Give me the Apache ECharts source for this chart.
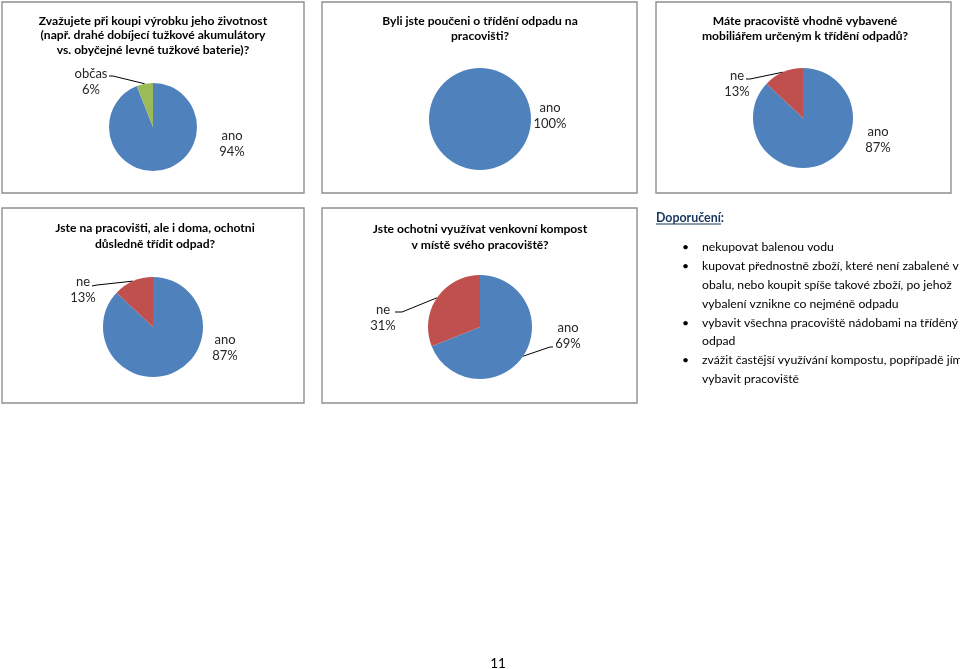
<!DOCTYPE html>
<html>
<head>
<meta charset="utf-8">
<script src="https://cdn.jsdelivr.net/npm/echarts@6/dist/echarts.min.js"></script>
<style>
html,body{margin:0;padding:0;background:#fff;}
#c{width:960px;height:669px;}
</style>
</head>
<body>
<div id="c"></div>
<script>
// ---- data ----
const chartTitles = [
  'Zvažujete při koupi výrobku jeho životnost\n(např. drahé dobíjecí tužkové akumulátory\nvs. obyčejné levné tužkové baterie)?',
  'Byli jste poučeni o třídění odpadu na\npracovišti?',
  'Máte pracoviště vhodně vybavené\nmobiliářem určeným k třídění odpadů?',
  'Jste na pracovišti, ale i doma, ochotni\ndůsledně třídit odpad?',
  'Jste ochotni využívat venkovní kompost\nv místě svého pracoviště?'
];
const pie1Names = ['ano', 'občas'];
const pie1Values = [94, 6];
const pie2Names = ['ano'];
const pie2Values = [100];
const pie3Names = ['ano', 'ne'];
const pie3Values = [87, 13];
const pie4Names = ['ano', 'ne'];
const pie4Values = [87, 13];
const pie5Names = ['ano', 'ne'];
const pie5Values = [69, 31];

const recTitle = 'Doporučení:';
const recLines = [
  'nekupovat balenou vodu',
  'kupovat přednostně zboží, které není zabalené v',
  'obalu, nebo koupit spíše takové zboží, po jehož',
  'vybalení vznikne co nejméně odpadu',
  'vybavit všechna pracoviště nádobami na tříděný',
  'odpad',
  'zvážit častější využívání kompostu, popřípadě jím',
  'vybavit pracoviště'
];
const recBullets = [true, true, false, false, true, false, true, false];
const pageNumber = '11';

// ---- styles / layout ----
const FONT = 'Lato';
const sliceColors = { 'ano': '#4F81BD', 'ne': '#C0504D', 'občas': '#9BBB59' };
const boxes = [
  [2, 2, 302, 191], [322, 2, 315, 191], [656, 2, 295, 191],
  [2, 208, 302, 195], [322, 208, 315, 195]
];
const pieLayout = [
  { center: [153, 127], r: 44, titleX: 153, titleY: 13.5, lh: 14.5 },
  { center: [480, 119], r: 51, titleX: 480, titleY: 13.5, lh: 15 },
  { center: [803, 118], r: 50, titleX: 805, titleY: 13.5, lh: 15 },
  { center: [153, 327], r: 50, titleX: 155, titleY: 220, lh: 16 },
  { center: [480, 327], r: 52, titleX: 480, titleY: 221, lh: 16 }
];
// label centre offsets from pie centre, per slice
const labelOffsets = [
  [[79, 17], [-62, -45]],
  [[70, -3]],
  [[75, 22], [-66, -34]],
  [[72, 21], [-70, -37]],
  [[88, 9], [-97, -9]]
];
// leader lines: [start offset, knee offset] or null
const leaderLines = [
  [null, [[-44, -51], [-40, -51]]],
  [null],
  [null, [[-57, -39], [-53, -39]]],
  [null, [[-61, -41], [-56, -42]]],
  [[[73, 20], [70, 20]], [[-85, -15], [-78, -15]]]
];

const pieData = [
  [pie1Names, pie1Values], [pie2Names, pie2Values], [pie3Names, pie3Values],
  [pie4Names, pie4Values], [pie5Names, pie5Values]
];

function edgePoint(values, i, cx, cy, r) {
  const total = values.reduce((a, b) => a + b, 0);
  let before = 0;
  for (let k = 0; k < i; k++) before += values[k];
  const midFrac = (before + values[i] / 2) / total;
  const ang = (90 - 360 * midFrac) * Math.PI / 180;
  return [cx + r * Math.cos(ang), cy - r * Math.sin(ang)];
}

const series = pieData.map(([names, values], si) => {
  const L = pieLayout[si];
  const [cx, cy] = L.center;
  return {
    type: 'pie',
    center: L.center,
    radius: L.r,
    startAngle: 90,
    clockwise: true,
    avoidLabelOverlap: false,
    silent: true,
    animation: false,
    percentPrecision: 0,
    itemStyle: { borderWidth: 0 },
    data: names.map((n, i) => ({
      name: n,
      value: values[i],
      itemStyle: { color: sliceColors[n] },
      labelLine: { show: !!leaderLines[si][i] }
    })),
    label: {
      show: true,
      position: 'outside',
      formatter: '{b}\n{d}%',
      fontFamily: FONT,
      fontSize: 13,
      lineHeight: 16,
      color: '#262626',
      align: 'center'
    },
    labelLine: {
      show: true,
      lineStyle: { color: '#000', width: 1 },
      length: 10, length2: 10
    },
    labelLayout: function (p) {
      const i = p.dataIndex;
      const off = labelOffsets[si][i];
      const res = {
        x: cx + off[0], y: cy + off[1],
        align: 'center', verticalAlign: 'middle',
        hideOverlap: false, moveOverlap: null
      };
      const ll = leaderLines[si][i];
      if (ll) {
        res.labelLinePoints = [
          edgePoint(values, i, cx, cy, L.r),
          [cx + ll[1][0], cy + ll[1][1]],
          [cx + ll[0][0], cy + ll[0][1]]
        ];
      }
      return res;
    }
  };
});

const titles = chartTitles.map((t, i) => ({
  text: t,
  left: pieLayout[i].titleX,
  top: pieLayout[i].titleY,
  textAlign: 'center',
  padding: 0,
  textStyle: {
    fontFamily: FONT, fontSize: 12.1, fontWeight: 'bold', color: '#000',
    lineHeight: pieLayout[i].lh
  }
}));

const REC_LH = 18.8;
const REC_FS = 12.2;
const REC_Y0 = 247.5;
const graphics = boxes.map(b => ({
  type: 'rect', silent: true, z: 0,
  shape: { x: b[0], y: b[1], width: b[2], height: b[3] },
  style: { fill: null, stroke: '#8f8f8f', lineWidth: 1.4 }
}));
graphics.push({
  type: 'text', x: 656, y: 218, silent: true,
  style: { text: recTitle, fontFamily: FONT, fontSize: 12.4, fontWeight: 'bold', fill: '#17365D', verticalAlign: 'middle' }
});
graphics.push({
  type: 'line', silent: true,
  shape: { x1: 656, y1: 224, x2: 721, y2: 224 },
  style: { stroke: '#17365D', lineWidth: 1 }
});
graphics.push({
  type: 'text', silent: true, x: 682, y: REC_Y0 - REC_LH / 2,
  style: {
    text: recBullets.map(b => b ? '•' : ' ').join('\n'),
    fontFamily: FONT, fontSize: REC_FS, lineHeight: REC_LH, fill: '#000'
  }
});
graphics.push({
  type: 'text', silent: true, x: 702, y: REC_Y0 - REC_LH / 2,
  style: {
    text: recLines.join('\n'),
    fontFamily: FONT, fontSize: REC_FS, lineHeight: REC_LH, fill: '#000'
  }
});
graphics.push({
  type: 'text', silent: true, x: 498, y: 664,
  style: { text: pageNumber, fontFamily: FONT, fontSize: 13.5, fill: '#000', align: 'center', verticalAlign: 'middle' }
});

const chart = echarts.init(document.getElementById('c'), null, { renderer: 'canvas' });
chart.setOption({
  backgroundColor: '#ffffff',
  animation: false,
  title: titles,
  graphic: graphics,
  series: series
});
</script>
</body>
</html>
